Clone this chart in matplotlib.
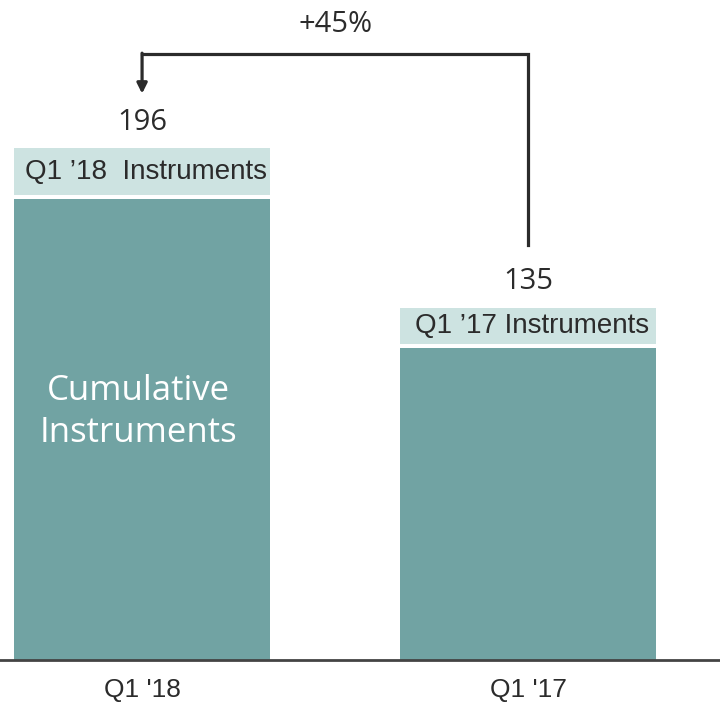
import matplotlib.pyplot as plt

# data
periods = ["Q1 '18", "Q1 '17"]
instruments = [196, 135]
band_labels = ["Q1 \u201918  Instruments", "Q1 \u201917 Instruments"]
band_sizes = [18, 14]
growth_label = "+45%"

teal = "#71a3a3"
band_color = "#cde3e1"
text_color = "#2b2b2b"
gap = 1.5

fig = plt.figure(figsize=(7.2, 7.08), dpi=100)
ax = fig.add_axes([0, 48 / 708, 1, 660 / 708])

x = range(len(periods))
width = 0.663
body = [v - b - gap for v, b in zip(instruments, band_sizes)]
ax.bar(x, body, width=width, color=teal)
band_bottoms = [v - b for v, b in zip(instruments, band_sizes)]
ax.bar(x, band_sizes, bottom=band_bottoms, width=width, color=band_color)

for i, (v, b, lab) in enumerate(zip(instruments, band_sizes, band_labels)):
    ax.text(i, v + 10, str(v), ha="center", va="center", fontsize=21,
            color=text_color, family="Open Sans")
    ax.text(i + 0.01, v - b / 2, lab, ha="center", va="center", fontsize=20,
            color=text_color, family="Liberation Sans")

ax.text(-0.01, 95, "Cumulative\nInstruments", ha="center", va="center",
        fontsize=25, color="white", family="Open Sans", linespacing=1.3)

# growth arrow from Q1 '17 to Q1 '18
top = 232
ax.plot([1, 1, 0], [instruments[1] + 24, top, top], color=text_color, lw=2.3,
        solid_joinstyle="miter")
ax.annotate("", xy=(0, 217), xytext=(0, top + 0.5),
            arrowprops=dict(arrowstyle="-|>,head_width=0.3,head_length=0.6",
                            color=text_color, lw=2.3, shrinkA=0, shrinkB=0))
ax.text(0.5, 243.5, growth_label, ha="center", va="center", fontsize=21,
        color=text_color, family="Open Sans")

ax.set_xlim(-0.368, 1.497)
ax.set_ylim(0, 660 / 2.61)
ax.set_xticks(list(x))
ax.set_xticklabels(periods, fontsize=19, color=text_color, family="Liberation Sans")
ax.tick_params(axis="x", length=0, pad=13)
ax.set_yticks([])
for s in ["top", "left", "right"]:
    ax.spines[s].set_visible(False)
ax.spines["bottom"].set_color("#444444")
ax.spines["bottom"].set_linewidth(2)

fig.savefig("out.png", dpi=100)
